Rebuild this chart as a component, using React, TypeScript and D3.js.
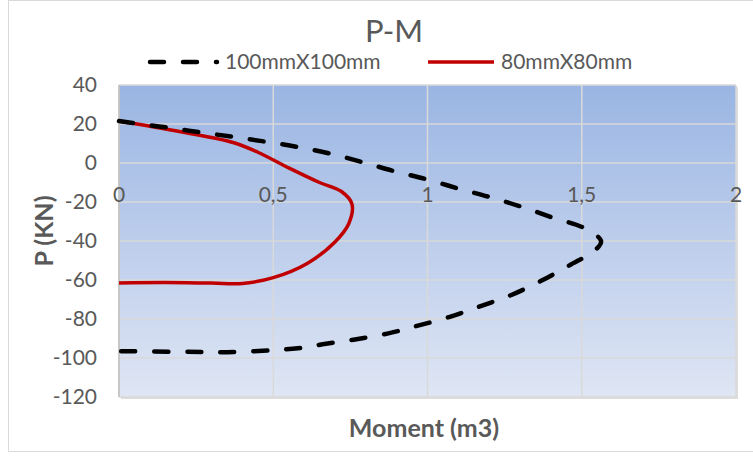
import React from "react";
import * as d3 from "d3";

const xTicks = [0, 0.5, 1, 1.5, 2];
const xTickLabels = ["0", "0,5", "1", "1,5", "2"];
const yTicks = [40, 20, 0, -20, -40, -60, -80, -100, -120];

const seriesNames = ["100mmX100mm", "80mmX80mm"];

const m100 = [0, 0.06, 0.165, 0.27, 0.375, 0.48, 0.58, 0.685, 0.79, 0.89, 1.0, 1.1, 1.2, 1.3, 1.4, 1.51, 1.5625, 1.545, 1.46, 1.365, 1.27, 1.17, 1.07, 0.96, 0.87, 0.76, 0.66, 0.58, 0.5, 0.35, 0.2, 0];
const p100 = [21.5, 20.2, 18, 15.6, 13.3, 10.8, 8.2, 4.8, 0.4, -4.1, -8.5, -13.1, -17.4, -22.2, -27.7, -33.5, -40, -44.5, -52.5, -60.7, -67.8, -73.5, -79, -83.8, -87.5, -90.6, -93, -95, -96, -97, -96.8, -96.5];

const m80 = [0, 0.2, 0.37, 0.45, 0.55, 0.65, 0.72, 0.755, 0.745, 0.7, 0.61, 0.5, 0.4, 0.3, 0.15, 0];
const p80 = [21.5, 16, 10.5, 5.5, -2.5, -10, -14.5, -21, -31, -40.5, -51.5, -58.8, -61.8, -61.6, -61.3, -61.5];

const W = 753;
const H = 457;
const left = 119;
const right = 736;
const top = 85;
const bottom = 397;
const font = "Lato, 'Open Sans', sans-serif";
const textColor = "#595959";

export default function App() {
  const x = d3.scaleLinear().domain([0, 2]).range([left, right]);
  const y = d3.scaleLinear().domain([-120, 40]).range([bottom, top]);
  const line = d3
    .line<[number, number]>()
    .x((d) => x(d[0]))
    .y((d) => y(d[1]))
    .curve(d3.curveCatmullRom.alpha(0.5));
  const d100 = line(m100.map((m, i) => [m, p100[i]] as [number, number])) || "";
  const d80 = line(m80.map((m, i) => [m, p80[i]] as [number, number])) || "";

  return (
    <svg
      width={W}
      height={H}
      style={{ position: "absolute", left: 0, top: 0, background: "#fff" }}
      fontFamily={font}
    >
      <defs>
        <linearGradient id="bg" x1="0" y1="0" x2="0" y2="1">
          <stop offset="0" stopColor="#9ab5e3" />
          <stop offset="1" stopColor="#dfe6f4" />
        </linearGradient>
      </defs>
      <rect x={8.5} y={0.5} width={760} height={451} fill="#fff" stroke="#d9d9d9" />
      <text x={394} y={42} textAnchor="middle" fontSize={31} fill={textColor}>
        P-M
      </text>
      {/* legend */}
      <line x1={150} x2={217} y1={62} y2={62} stroke="#000" strokeWidth={4.5} strokeDasharray="14 19" strokeLinecap="round" />
      <text x={225} y={68.5} fontSize={21} fill={textColor}>{seriesNames[0]}</text>
      <line x1={428} x2={494} y1={62} y2={62} stroke="#c00000" strokeWidth={3.5} />
      <text x={501} y={68.5} fontSize={21} fill={textColor}>{seriesNames[1]}</text>

      {/* plot area */}
      <rect x={left + 2} y={top + 2} width={right - left} height={bottom - top} fill="#c8c8c8" opacity={0.6} />
      <rect x={left} y={top} width={right - left} height={bottom - top} fill="url(#bg)" />
      {yTicks.map((t) => (
        <line key={"gy" + t} x1={left} x2={right} y1={y(t)} y2={y(t)} stroke="#d9d9d9" strokeWidth={1.5} />
      ))}
      {xTicks.map((t) => (
        <line key={"gx" + t} x1={x(t)} x2={x(t)} y1={top} y2={bottom} stroke="#d9d9d9" strokeWidth={1.5} />
      ))}
      <line x1={left} x2={left} y1={top} y2={bottom} stroke="#bfbfbf" strokeWidth={1.5} />

      {yTicks.map((t) => (
        <text key={"ty" + t} x={97} y={y(t)} dy="0.35em" textAnchor="end" fontSize={21} fill={textColor}>
          {t}
        </text>
      ))}
      {xTicks.map((t, i) => (
        <text key={"tx" + t} x={x(t)} y={202} textAnchor="middle" fontSize={21} fill={textColor}>
          {xTickLabels[i]}
        </text>
      ))}

      <path d={d80} fill="none" stroke="#c00000" strokeWidth={3.5} strokeLinejoin="round" />
      <path d={d100} fill="none" stroke="#000" strokeWidth={4.5} strokeDasharray="14 19" strokeLinecap="round" />

      <text x={424} y={437} textAnchor="middle" fontSize={25} fontWeight="bold" fill={textColor}>
        Moment (m3)
      </text>
      <text
        transform={`translate(53,231) rotate(-90)`}
        textAnchor="middle"
        fontSize={25}
        fontWeight="bold"
        fill={textColor}
      >
        P (KN)
      </text>
    </svg>
  );
}
